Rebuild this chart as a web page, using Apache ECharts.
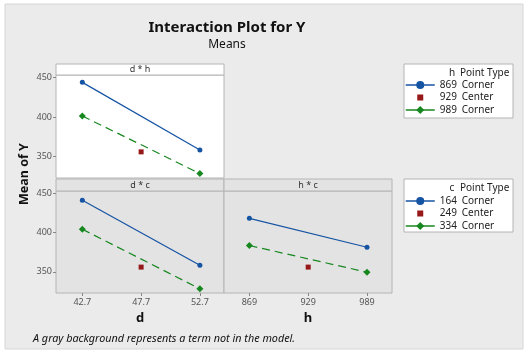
<!DOCTYPE html>
<html><head><meta charset="utf-8">
<script src="https://cdn.jsdelivr.net/npm/echarts@6/dist/echarts.min.js"></script>
<style>html,body{margin:0;padding:0;background:#fff}#c{width:531px;height:355px}</style>
</head><body><div id="c"></div>
<script>
// ---- data ----
const dLevels = [42.7, 52.7];
const dCenter = 47.7;
const hLevels = [869, 989];
const hCenter = 929;
const dTicks = [42.7, 47.7, 52.7];
const hTicks = [869, 929, 989];
const yTicks = [350, 400, 450];
const centerMean = 356;
// d*h : lines for h = 869, 989
const dh_h869 = [443.7, 358.4];
const dh_h989 = [401.3, 328.6];
// d*c : lines for c = 164, 334
const dc_c164 = [441.1, 358.4];
const dc_c334 = [404.2, 328.4];
// h*c : lines for c = 164, 334
const hc_c164 = [418.2, 381.3];
const hc_c334 = [383.5, 349.5];
const legendH = ['869 Corner', '929 Center', '989 Corner'];
const legendC = ['164 Corner', '249 Center', '334 Corner'];

const BLUE = '#1553a3', GREEN = '#17871f', RED = '#961818';
const FONT = 'Noto Sans';
const pair = (xs, ys) => xs.map((x, i) => [x, ys[i]]);

function lineSeries(name, xi, yi, xs, ys, color, dashed) {
  return {
    type: 'line', name, xAxisIndex: xi, yAxisIndex: yi,
    data: pair(xs, ys),
    symbol: dashed ? 'diamond' : 'circle',
    symbolSize: dashed ? 7 : 5,
    showSymbol: true,
    itemStyle: { color, opacity: 1 },
    lineStyle: { color, width: 1.2, type: dashed ? [8, 5] : 'solid' },
    animation: false, silent: true
  };
}
function centerSeries(name, xi, yi, x) {
  return {
    type: 'scatter', name, xAxisIndex: xi, yAxisIndex: yi,
    data: [[x, centerMean]], symbol: 'rect', symbolSize: 5,
    itemStyle: { color: RED, opacity: 1 }, animation: false, silent: true
  };
}

const yAxisBase = (showLabels) => ({
  type: 'value', min: 323, max: 453,
  axisLine: { show: false },
  splitLine: { show: false },
  axisTick: { show: showLabels, length: 3, customValues: yTicks, lineStyle: { color: '#888' } },
  axisLabel: { show: showLabels, customValues: yTicks, fontSize: 9, color: '#555', fontFamily: FONT, margin: 4 }
});
const xAxisBase = (min, max, ticks, show, name) => ({
  type: 'value', min, max,
  axisLine: { show: false },
  splitLine: { show: false },
  axisTick: { show, length: 3, customValues: ticks, lineStyle: { color: '#888' } },
  axisLabel: { show, customValues: ticks, fontSize: 9, color: '#555', fontFamily: FONT, margin: 5 },
  name: show ? name : '', nameLocation: 'middle', nameGap: 19,
  nameTextStyle: { fontSize: 13, fontWeight: 'bold', color: '#111', fontFamily: FONT }
});

const SQUARE_ICON = 'path://M0,0L0.01,0M11.5,2L17.5,2L17.5,8L11.5,8ZM29,10L28.99,10';
const legendItem = (n) => ({ name: n, lineStyle: { type: 'solid', width: 1.5 } });
const legendFmt = n => { const p = n.split(' '); return '{n|' + p[0] + '}{t|' + p[1] + '}'; };
const legendBase = (top, names) => ({
  left: 405, top, orient: 'vertical', padding: 0, itemGap: 2.5,
  itemWidth: 29, itemHeight: 10, selectedMode: false,
  data: [legendItem(names[0]), { name: names[1], icon: SQUARE_ICON, itemStyle: { color: RED, opacity: 1 } }, legendItem(names[2])],
  formatter: legendFmt,
  textStyle: { fontFamily: FONT, fontSize: 10, color: '#222',
    rich: { n: { width: 22, fontSize: 10, fontFamily: FONT, color: '#222' }, t: { fontSize: 10, fontFamily: FONT, color: '#222' } } }
});

const panelBorder = '#b4b4b4';
const option = {
  backgroundColor: '#ffffff',
  animation: false,
  title: [
    { text: 'Interaction Plot for Y', left: 222, textAlign: 'center', top: 15,
      textStyle: { fontSize: 15, fontWeight: 'bold', color: '#111', fontFamily: FONT } },
    { text: 'Means', left: 222, textAlign: 'center', top: 34,
      textStyle: { fontSize: 12, fontWeight: 'normal', color: '#111', fontFamily: FONT } }
  ],
  graphic: [
    { type: 'rect', shape: { x: 5, y: 4, width: 518, height: 345 }, style: { fill: '#ebebeb', stroke: '#d6d6d6', lineWidth: 1 }, z: -10 },
    // panel header strips
    { type: 'rect', shape: { x: 56, y: 64, width: 168, height: 11 }, style: { fill: '#ffffff', stroke: panelBorder, lineWidth: 1 } },
    { type: 'text', x: 140, y: 69.5, style: { text: 'd * h', fontSize: 9, fontFamily: FONT, fill: '#333', textAlign: 'center', textVerticalAlign: 'middle' } },
    { type: 'rect', shape: { x: 56, y: 179, width: 168, height: 12 }, style: { fill: '#e3e3e3', stroke: panelBorder, lineWidth: 1 } },
    { type: 'text', x: 140, y: 185, style: { text: 'd * c', fontSize: 9, fontFamily: FONT, fill: '#333', textAlign: 'center', textVerticalAlign: 'middle' } },
    { type: 'rect', shape: { x: 224, y: 179, width: 168, height: 12 }, style: { fill: '#e3e3e3', stroke: panelBorder, lineWidth: 1 } },
    { type: 'text', x: 308, y: 185, style: { text: 'h * c', fontSize: 9, fontFamily: FONT, fill: '#333', textAlign: 'center', textVerticalAlign: 'middle' } },
    // y axis title
    { type: 'text', x: 24, y: 174, rotation: Math.PI / 2, style: { text: 'Mean of Y', fontSize: 12.5, fontWeight: 'bold', fontFamily: FONT, fill: '#111', textAlign: 'center', textVerticalAlign: 'middle' } },
    // legend boxes
    { type: 'rect', shape: { x: 404, y: 64, width: 109, height: 54 }, style: { fill: '#ffffff', stroke: '#b4b4b4', lineWidth: 1 } },
    { type: 'text', x: 452, y: 73, style: { text: 'h', fontSize: 10, fontFamily: FONT, fill: '#222', textAlign: 'center', textVerticalAlign: 'middle' } },
    { type: 'text', x: 460, y: 73, style: { text: 'Point Type', fontSize: 10, fontFamily: FONT, fill: '#222', textAlign: 'left', textVerticalAlign: 'middle' } },
    { type: 'rect', shape: { x: 404, y: 179, width: 109, height: 53 }, style: { fill: '#ffffff', stroke: '#b4b4b4', lineWidth: 1 } },
    { type: 'text', x: 452, y: 188.5, style: { text: 'c', fontSize: 10, fontFamily: FONT, fill: '#222', textAlign: 'center', textVerticalAlign: 'middle' } },
    { type: 'text', x: 460, y: 188.5, style: { text: 'Point Type', fontSize: 10, fontFamily: FONT, fill: '#222', textAlign: 'left', textVerticalAlign: 'middle' } },
    // footnote
    { type: 'text', x: 33, y: 339, style: { text: 'A gray background represents a term not in the model.', fontSize: 10.8, fontStyle: 'italic', fontFamily: FONT, fill: '#111', textAlign: 'left', textVerticalAlign: 'middle' } }
  ],
  legend: [legendBase(80, legendH), legendBase(196, legendC)],
  grid: [
    { left: 56, top: 75, width: 168, height: 103, show: true, backgroundColor: '#ffffff', borderColor: panelBorder, borderWidth: 1 },
    { left: 56, top: 191, width: 168, height: 102, show: true, backgroundColor: '#e3e3e3', borderColor: panelBorder, borderWidth: 1 },
    { left: 224, top: 191, width: 168, height: 102, show: true, backgroundColor: '#e3e3e3', borderColor: panelBorder, borderWidth: 1 }
  ],
  xAxis: [
    Object.assign(xAxisBase(40.46, 54.75, dTicks, false, ''), { gridIndex: 0 }),
    Object.assign(xAxisBase(40.46, 54.75, dTicks, true, 'd'), { gridIndex: 1 }),
    Object.assign(xAxisBase(843.1, 1014.5, hTicks, true, 'h'), { gridIndex: 2 })
  ],
  yAxis: [
    Object.assign(yAxisBase(true), { gridIndex: 0 }),
    Object.assign(yAxisBase(true), { gridIndex: 1 }),
    Object.assign(yAxisBase(false), { gridIndex: 2 })
  ],
  series: [
    lineSeries(legendH[0], 0, 0, dLevels, dh_h869, BLUE, false),
    lineSeries(legendH[2], 0, 0, dLevels, dh_h989, GREEN, true),
    centerSeries(legendH[1], 0, 0, dCenter),
    lineSeries(legendC[0], 1, 1, dLevels, dc_c164, BLUE, false),
    lineSeries(legendC[2], 1, 1, dLevels, dc_c334, GREEN, true),
    centerSeries(legendC[1], 1, 1, dCenter),
    lineSeries(legendC[0], 2, 2, hLevels, hc_c164, BLUE, false),
    lineSeries(legendC[2], 2, 2, hLevels, hc_c334, GREEN, true),
    centerSeries(legendC[1], 2, 2, hCenter)
  ]
};
const chart = echarts.init(document.getElementById('c'), null, { renderer: 'canvas' });
chart.setOption(option);
</script></body></html>
